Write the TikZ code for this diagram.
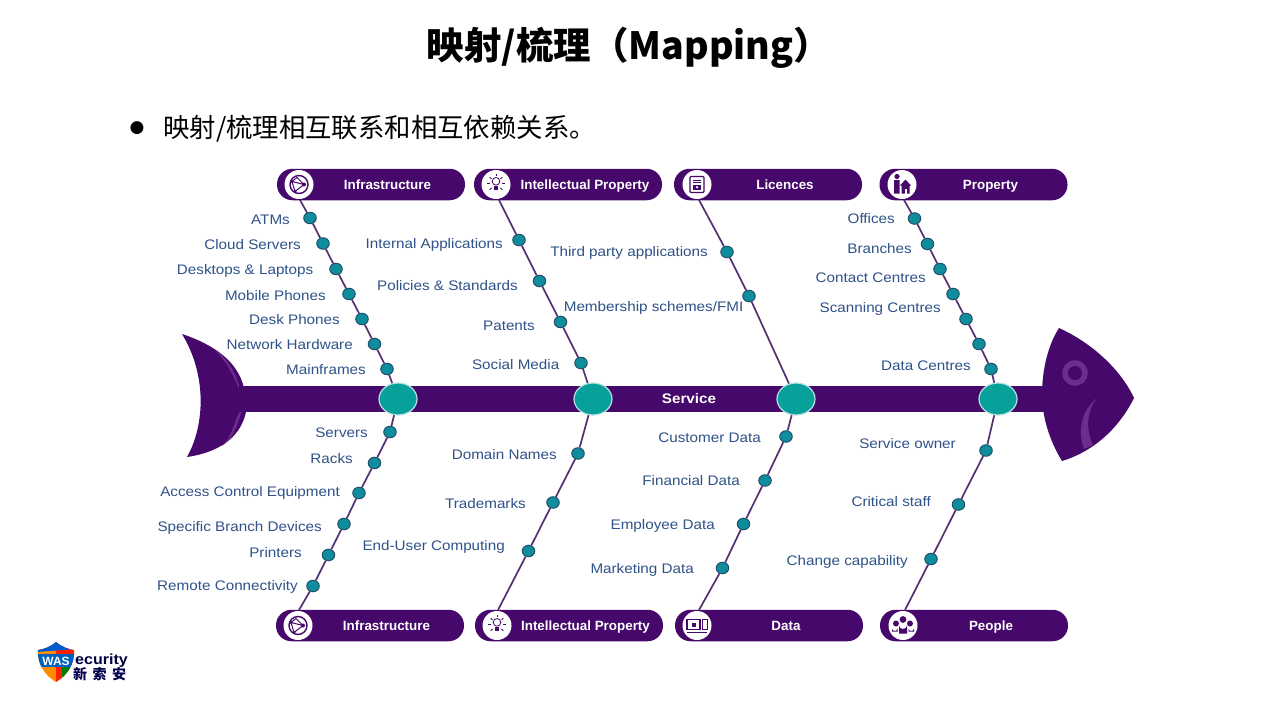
\documentclass[tikz,border=0pt]{standalone}
\usepackage{fontspec}
\setmainfont{Liberation Sans}
\newfontfamily\cjk{Noto Sans CJK SC}
\newfontfamily\labfont[FakeStretch=1.1]{Liberation Sans}
\usetikzlibrary{shapes.geometric,calc}
\definecolor{fishpurple}{HTML}{46096B}
\definecolor{fishlight}{HTML}{6E2C8C}
\definecolor{tealhub}{HTML}{08A09A}
\definecolor{tealdot}{HTML}{0E8E9C}
\definecolor{dotedge}{HTML}{23506E}
\definecolor{labelblue}{HTML}{2F5288}
\definecolor{spokecol}{HTML}{55306F}
\tikzset{
  x=1pt,y=-1pt,
  pill/.style={fill=fishpurple,rounded corners=15.5pt,minimum width=188pt,minimum height=31.5pt,inner sep=0pt,draw=none},
  pilltext/.style={text=white,font=\fontsize{13.4}{15}\selectfont\bfseries,inner sep=0pt,text height=11.5pt,text depth=2pt},
  iconbg/.style={circle,fill=white,minimum size=29pt,inner sep=0pt},
  lab/.style={text=labelblue,font=\labfont\fontsize{13.85}{16}\selectfont,inner sep=0pt,anchor=east,text height=12pt,text depth=2pt},
  hub/.style={ellipse,fill=tealhub,draw=white!70!tealhub,line width=1.2pt,minimum width=38pt,minimum height=32pt,inner sep=0pt},
  dotn/.style={ellipse,fill=tealdot,draw=dotedge,line width=1pt,minimum width=12.5pt,minimum height=11.5pt,inner sep=0pt},
  spoke/.style={draw=spokecol,line width=1.7pt},
  ic/.style={draw=fishpurple,line width=1pt,fill=none},
  iconnet/.pic={
    \draw[ic,line width=1.4pt] (0,0) circle (9);
    \draw[ic] (-7,-3)--(5,0)--(-4,7)--cycle (-7,-3)--(-2,-7)--(5,0);
    \fill[fishpurple] (5,0) circle (2) (-7,-3) circle (1.6) (-4,7) circle (1.6);
  },
  iconbulb/.pic={
    \draw[ic,line width=.8pt] (0,-5.5) circle (4.5);
    \fill[fishpurple] (-2,0) rectangle (2,5);
    \foreach \a in {0,45,135,180,225,315}{\draw[ic,line width=.8pt] ($(0,-3)+(\a:7.5)$) -- ($(0,-3)+(\a:10.5)$);}
    \draw[ic,line width=.8pt] (0,-12) -- (0,-14);
  },
  icondoc/.pic={
    \draw[ic,line width=1.3pt,rounded corners=1pt] (-7,-8) rectangle (7,8);
    \draw[ic] (-4,-4.5)--(4,-4.5) (-4,-2)--(4,-2);
    \fill[fishpurple] (-4,0.5) rectangle (4,5);
    \fill[white] (0,2.7) circle (1.3);
  },
  iconprop/.pic={
    \fill[fishpurple] (-5,-8) circle (2.6) (-8,-4.5) rectangle (-2.5,9);
    \fill[fishpurple] (-2,1) -- (3.5,-5) -- (9,1) -- (7.5,1) -- (7.5,9) -- (-.5,9) -- (-.5,1) -- cycle;
    \fill[white] (2.5,4) rectangle (4.5,9);
  },
  icondata/.pic={
    \draw[ic,line width=1.1pt] (-10,-6) rectangle (3,4);
    \fill[fishpurple] (-5.5,-2.5) rectangle (-1,1.5);
    \draw[ic,line width=.7pt] (5,-6) rectangle (10,4);
    \draw[ic,line width=1.1pt] (-10,7) -- (10,7);
  },
  iconpeople/.pic={
    \fill[fishpurple] (0,-6) circle (3.4) (-7,-2) circle (3) (7,-2) circle (3);
    \fill[fishpurple] (-4,8) -- (-4,0) arc (180:360:4 and -3.5) -- (4,8) -- cycle;
    \fill[fishpurple] (-11,6) -- (-11,3) arc (180:360:2.75 and -2.5) -- (-5.5,6) -- cycle;
    \fill[fishpurple] (5.5,6) -- (5.5,3) arc (180:360:2.75 and -2.5) -- (11,6) -- cycle;
  }
}
\begin{document}
\begin{tikzpicture}
\useasboundingbox (0,0) rectangle (1280,720);
\fill[white] (0,0) rectangle (1280,720);

% heading
\node[inner sep=0pt,font=\cjk\fontsize{37.5}{44}\selectfont\bfseries] (title) at (629,48) {映射/梳理（Mapping）};
\node[inner sep=0pt,font=\fontsize{17}{18}\selectfont] (bullet) at (137,128) {\fontspec{DejaVu Sans}●};
\node[inner sep=0pt,anchor=west,font=\cjk\fontsize{26.4}{30}\selectfont] (subtitle) at (163,129) {映射/梳理相互联系和相互依赖关系。};

% tail
\fill[fishpurple] (182,334) .. controls (215,345) and (238,362) .. (244,388) -- (246,412)
  .. controls (240,440) and (215,453) .. (187,457)
  .. controls (205,425) and (207,375) .. (182,334) -- cycle;
\fill[fishlight] (215,350) .. controls (232,362) and (238,380) .. (243,398) .. controls (236,382) and (230,365) .. (215,350) -- cycle;
\fill[fishlight] (243,408) .. controls (236,412) and (234,435) .. (222,446) .. controls (236,436) and (238,420) .. (243,408) -- cycle;

% body
\node[fill=fishpurple,minimum width=812pt,minimum height=26pt,inner sep=0pt] (spine) at (645,399) {};

% head
\fill[fishpurple] (1059,328) .. controls (1090,342) and (1120,368) .. (1134,398)
  .. controls (1118,430) and (1092,452) .. (1062,461)
  .. controls (1052,445) and (1042,420) .. (1042,395)
  .. controls (1042,370) and (1048,345) .. (1059,328) -- cycle;
\draw[draw=fishlight,line width=5.5pt] (1075,373) circle (10);
\fill[fishlight] (1097,398) .. controls (1084,408) and (1076,428) .. (1084,449) -- (1093,445)
  .. controls (1086,430) and (1086,412) .. (1097,398) -- cycle;

\node[text=white,font=\labfont\fontsize{13.85}{16}\selectfont\bfseries,inner sep=0pt,text height=11.5pt,text depth=2pt] (service) at (689,399) {Service};

% hubs
\node[hub] (h1) at (398,399) {};
\node[hub] (h2) at (593,399) {};
\node[hub] (h3) at (796,399) {};
\node[hub] (h4) at (998,399) {};

% category pills
\foreach \n/\x/\y in {pa/371/184.5,pb/568/184.5,pc/768/184.5,pd/973.5/184.5,pe/370/625.5,pf/569/625.5,pg/769/625.5,ph/974/625.5}
  \node[pill] (\n) at (\x,\y) {};
\foreach \n/\x/\y/\t in {ta/387.5/184.5/Infrastructure,tb/585/184.5/Intellectual Property,tc/785/184.5/Licences,td/990.5/184.5/Property,te/386.5/625.5/Infrastructure,tf/585.5/625.5/Intellectual Property,tg/786/625.5/Data,th/991/625.5/People}
  \node[pilltext] (\n) at (\x,\y) {\t};

% icons
\node[iconbg] (ia) at (299,184.5) {}; \pic at (299,184.5) {iconnet};
\node[iconbg] (ib) at (496,184.5) {}; \pic[scale=.85] at (496,186) {iconbulb};
\node[iconbg] (ic) at (697,184.5) {}; \pic at (697,184.5) {icondoc};
\node[iconbg] (id) at (902,184.5) {}; \pic at (902,184.5) {iconprop};
\node[iconbg] (ie) at (298,625.5) {}; \pic at (298,625.5) {iconnet};
\node[iconbg] (if) at (497,625.5) {}; \pic[scale=.85] at (497,627) {iconbulb};
\node[iconbg] (ig) at (697,625.5) {}; \pic at (697,625.5) {icondata};
\node[iconbg] (ih) at (903,625.5) {}; \pic at (903,625.5) {iconpeople};

% free ends at the pills
\coordinate (ca) at (300,200);
\coordinate (cb) at (499,200);
\coordinate (cc) at (699,200);
\coordinate (cd) at (904,200);
\coordinate (ce) at (299,610);
\coordinate (cf) at (498,610);
\coordinate (cg) at (699,610);
\coordinate (ch) at (905,610);

% small dots
\foreach \n/\x/\y in {
  a1/310/218,a2/323/243.5,a3/336/269,a4/349/294,a5/362/319,a6/374.5/344,a7/387/369,
  b1/519/240,b2/539.5/281,b3/560.5/322,b4/581/363,
  c1/727/252,c2/749/296,
  d1/914.5/218.5,d2/927.5/244,d3/940/269,d4/953/294,d5/966/319,d6/979/344,d7/991/369,
  e1/390/432,e2/374.5/463,e3/359/493,e4/344/524,e5/328.5/555,e6/313/586,
  f1/578/453.5,f2/553/502.5,f3/528.5/551,
  g1/786/436.5,g2/765/480.5,g3/743.5/524,g4/722.5/568,
  k1/986/450.5,k2/958.5/504.5,k3/931/559}
  \node[dotn] (\n) at (\x,\y) {};

% connectors
\draw[spoke] (ca) -- (a1) -- (a2) -- (a3) -- (a4) -- (a5) -- (a6) -- (a7) -- (h1);
\draw[spoke] (cb) -- (b1) -- (b2) -- (b3) -- (b4) -- (h2);
\draw[spoke] (cc) -- (c1) -- (c2) -- (h3);
\draw[spoke] (cd) -- (d1) -- (d2) -- (d3) -- (d4) -- (d5) -- (d6) -- (d7) -- (h4);
\draw[spoke] (h1) -- (e1) -- (e2) -- (e3) -- (e4) -- (e5) -- (e6) -- (ce);
\draw[spoke] (h2) -- (f1) -- (f2) -- (f3) -- (cf);
\draw[spoke] (h3) -- (g1) -- (g2) -- (g3) -- (g4) -- (cg);
\draw[spoke] (h4) -- (k1) -- (k2) -- (k3) -- (ch);

% labels
\foreach \n/\x/\y/\t in {
  la1/290/219/ATMs,la2/301/244/Cloud Servers,la3/313.5/269.5/Desktops \& Laptops,la4/326/295/Mobile Phones,la5/340/319.5/Desk Phones,la6/353/344.5/Network Hardware,la7/366/369.5/Mainframes,
  lb1/503/243.5/Internal Applications,lb2/518/285.5/Policies \& Standards,lb3/535/325.5/Patents,lb4/559.5/364/Social Media,
  lc1/708/251.5/Third party applications,lc2/743.5/306/{Membership schemes/FMI},
  ld1/895/218.5/Offices,ld2/912/248/Branches,ld3/926/277.5/Contact Centres,ld4/941/307.5/Scanning Centres,ld5/971/365.5/Data Centres,
  le1/368/432.5/Servers,le2/353/458.5/Racks,le3/340/491.5/Access Control Equipment,le4/322/526.5/Specific Branch Devices,le5/302/552.5/Printers,le6/298/585/Remote Connectivity,
  lf1/557/454.5/Domain Names,lf2/526/503/Trademarks,lf3/505/545.5/End-User Computing,
  lg1/761/437/Customer Data,lg2/740/480.5/Financial Data,lg3/715/524.5/Employee Data,lg4/694/568.5/Marketing Data,
  lk1/956/443/Service owner,lk2/931/501.5/Critical staff,lk3/908/560/Change capability}
  \node[lab] (\n) at (\x,\y) {\t};

% logo
\begin{scope}
  \clip (56,642) .. controls (50,647) and (44,649) .. (38,650) .. controls (37,663) and (44,675) .. (56,682)
        .. controls (68,675) and (75,663) .. (74,650) .. controls (68,649) and (62,647) .. (56,642) -- cycle;
  \fill[orange!90!yellow] (36,640) rectangle (56,684);
  \fill[red!75!orange] (56,640) rectangle (76,684);
  \fill[blue!55!cyan!80!black] (36,640) -- (76,640) -- (76,649) -- (36,652) -- cycle;
  \fill[blue!50!cyan!75!black] (36,654) rectangle (76,667);
  \fill[green!50!black] (62,667) rectangle (76,684);
\end{scope}
\node[inner sep=0pt,text=white,font=\fontsize{12}{13}\selectfont\bfseries] (logowas) at (56,661) {WAS};
\node[inner sep=0pt,anchor=west,text=black!75!blue,font=\labfont\fontsize{14.6}{16}\selectfont\bfseries] (logosec) at (75,661) {ecurity};
\node[inner sep=0pt,anchor=west,text=black!70!blue,font=\cjk\fontsize{14}{15}\selectfont\bfseries] (logocn) at (73,674) {新\hspace{5.5pt}索\hspace{5.5pt}安};
\end{tikzpicture}
\end{document}
